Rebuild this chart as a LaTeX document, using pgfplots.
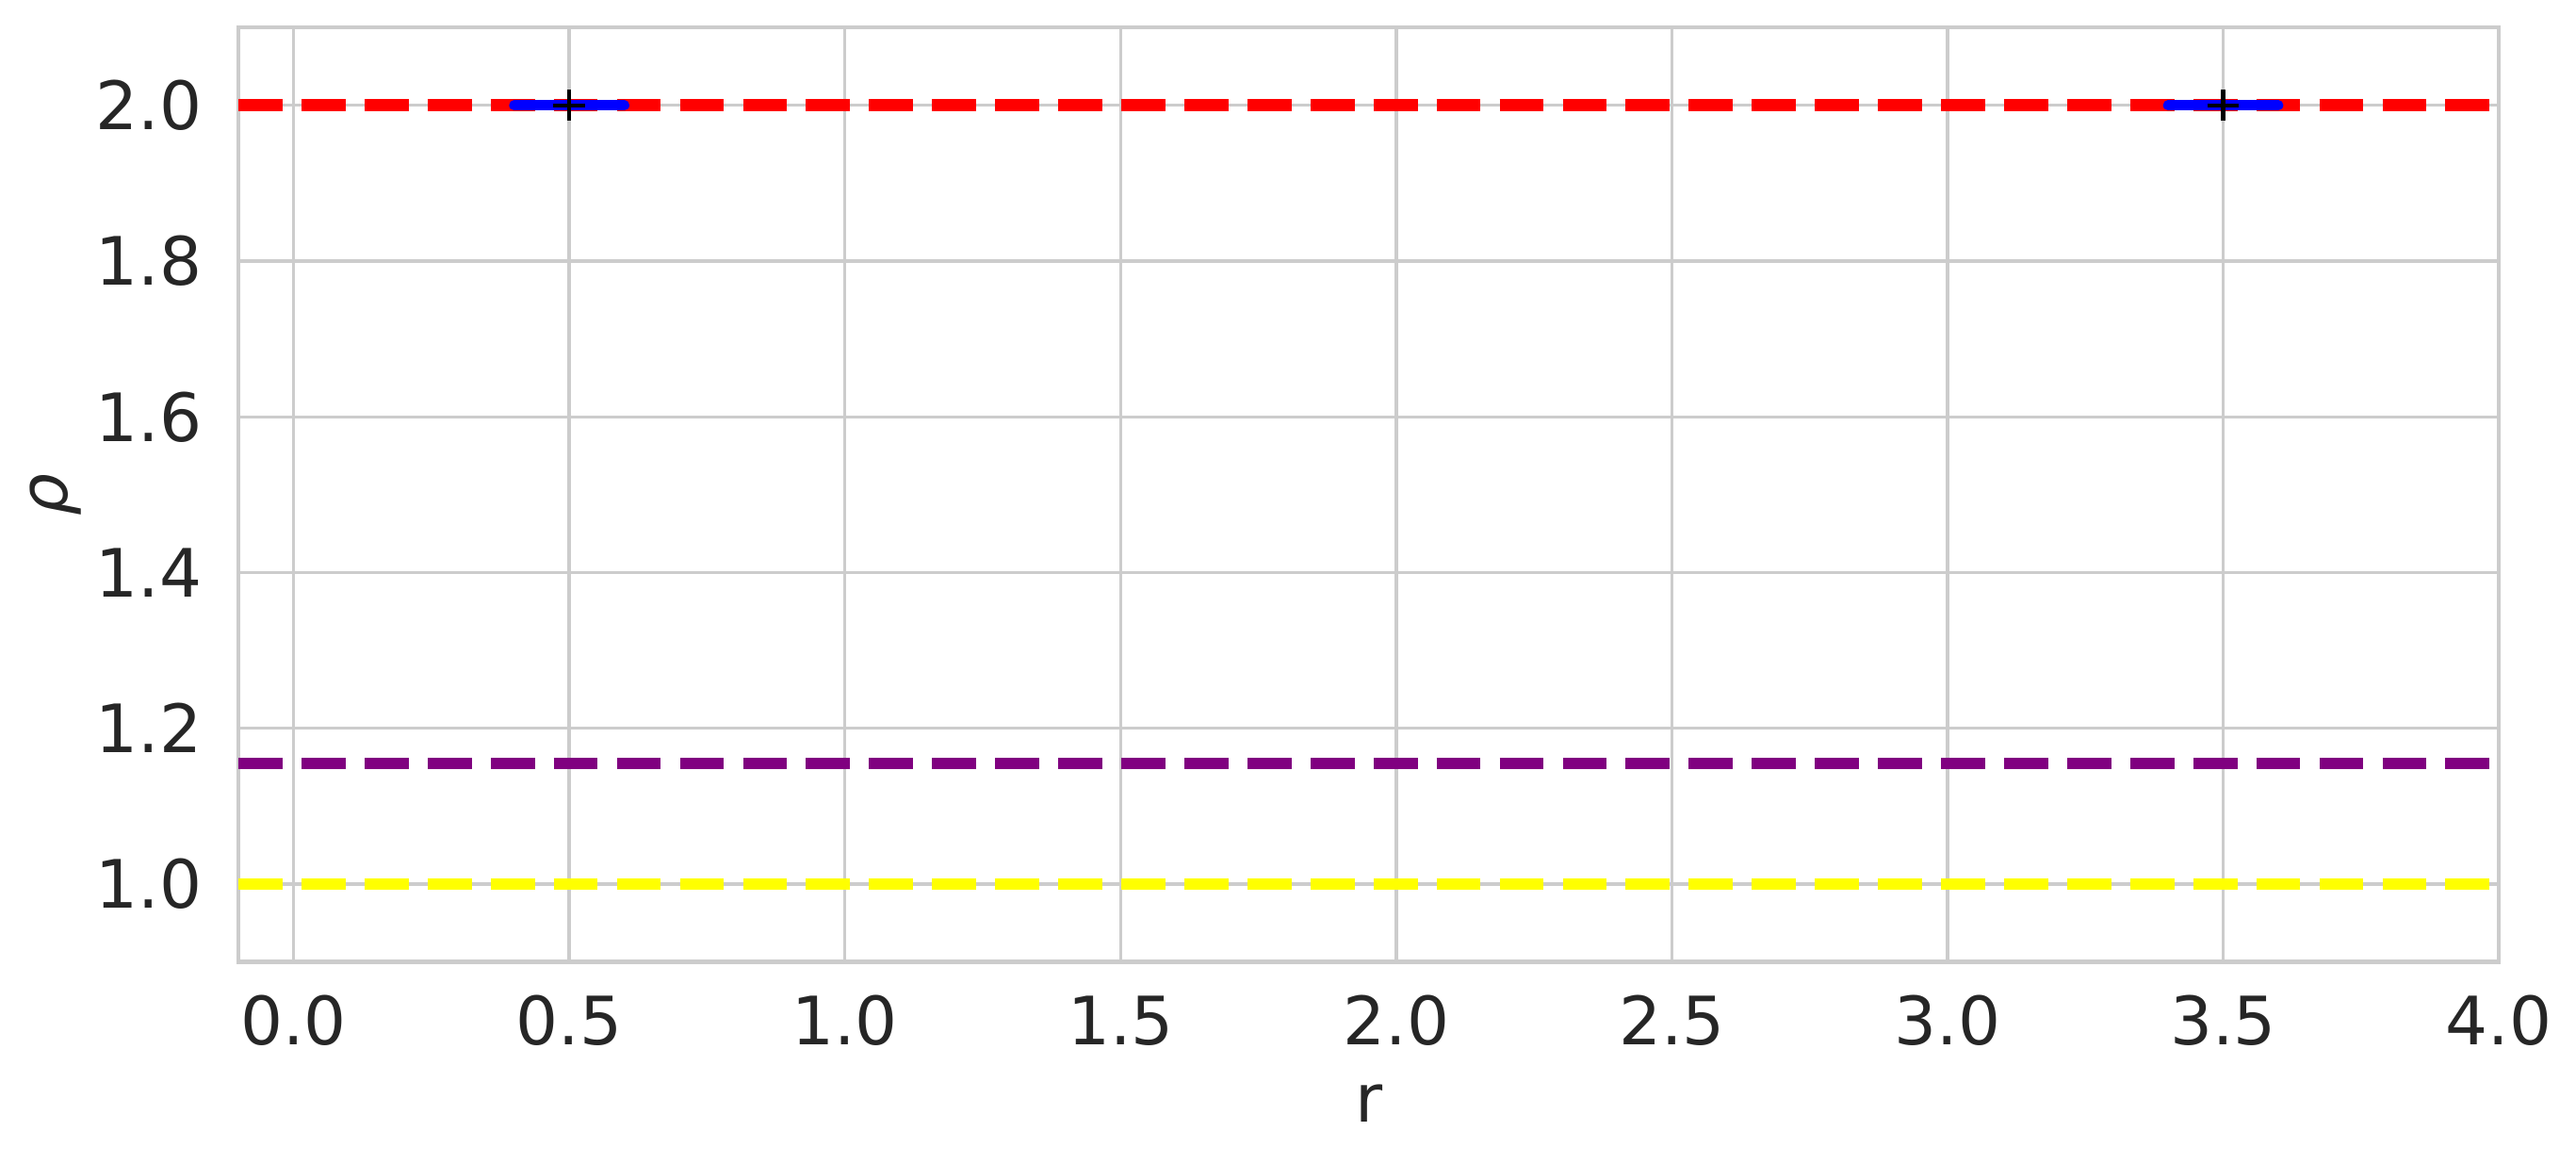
\documentclass[border=0pt]{standalone}
\usepackage{fontspec}
\setmainfont{DejaVu Sans}
\usepackage{pgfplots}
\pgfplotsset{compat=1.18}

\definecolor{gridgray}{HTML}{CCCCCC}
\definecolor{txt}{HTML}{262626}
\definecolor{mpurple}{HTML}{800080}
\definecolor{myellow}{HTML}{FFFF00}

\begin{document}
\begin{tikzpicture}
\begin{axis}[
  name=ax,
  scale only axis,
  width=559.2pt, height=231.1pt,
  xmin=-0.1, xmax=4.0,
  ymin=0.9, ymax=2.1,
  xtick={0,0.5,1,1.5,2,2.5,3,3.5,4},
  ytick={1,1.2,1.4,1.6,1.8,2},
  grid=major,
  major grid style={gridgray, line width=0.8pt},
  axis line style={gridgray, line width=1.05pt},
  major tick length=0pt,
  tick style={draw=none},
  ticklabel style={font=\fontsize{16.5}{19}\selectfont, text=txt},
  xticklabel style={inner sep=0pt, anchor=base, yshift=-20.6pt},
  yticklabel style={inner sep=0pt, anchor=east, xshift=-8.9pt},
  /pgf/number format/fixed,
  /pgf/number format/fixed zerofill,
  /pgf/number format/precision=1,
  /pgf/number format/assume math mode=true,
  xlabel={r},
  ylabel={\textit{ρ}},
  xlabel style={at={(rel axis cs:0.5,0)}, anchor=base, yshift=-39.5pt,
    font=\fontsize{16.5}{19}\selectfont, text=txt},
  ylabel style={font=\fontsize{16.5}{19}\selectfont, text=txt},
]
% reference levels
\addplot[red, line width=2.96pt, dash pattern=on 10.9pt off 4.7pt]
  coordinates {(-0.1,2.0) (4.0,2.0)};
\addplot[mpurple, line width=2.96pt, dash pattern=on 10.9pt off 4.7pt]
  coordinates {(-0.1,1.1547) (4.0,1.1547)};
\addplot[myellow, line width=2.96pt, dash pattern=on 10.9pt off 4.7pt]
  coordinates {(-0.1,1.0) (4.0,1.0)};

% short segments
\addplot[blue, line width=2.5pt, line cap=round]
  coordinates {(0.4,2.0) (0.6,2.0)};
\addplot[blue, line width=2.5pt, line cap=round]
  coordinates {(3.4,2.0) (3.6,2.0)};

% points
\addplot[only marks, black, mark=+, mark size=3.9pt, mark options={line width=1.0pt}]
  coordinates {(0.5,2.0) (3.5,2.0)};
\end{axis}
\path ([xshift=-59pt,yshift=-49.9pt]ax.south west)
  rectangle ([xshift=19.1pt,yshift=6.8pt]ax.north east);
\end{tikzpicture}
\end{document}
